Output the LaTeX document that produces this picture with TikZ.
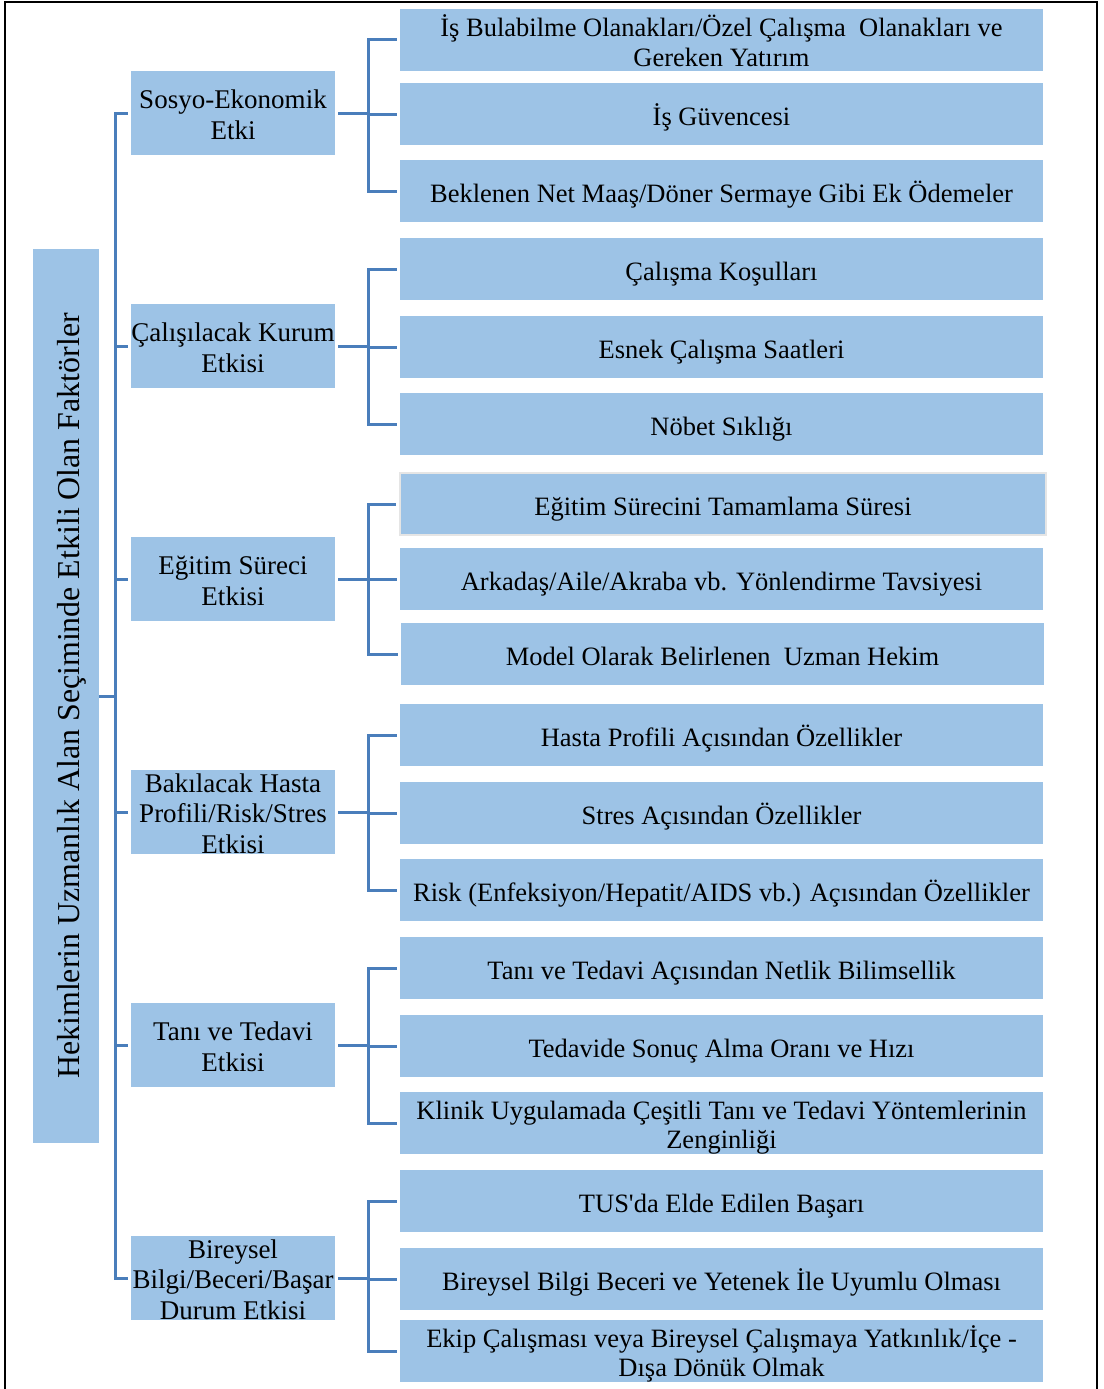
\documentclass[tikz,border=0pt]{standalone}
\usepackage{fontspec}
\setmainfont{Liberation Serif}[Ligatures=TeXOff]
\definecolor{boxfill}{HTML}{9DC3E6}
\definecolor{linecol}{HTML}{4A7EBB}
% struts: first-line height and last-line depth (in pt)
\newcommand\mystrut[1]{\rule{0pt}{#1pt}}
\newcommand\mydepth[1]{\rule[-#1pt]{0pt}{0pt}}
\newcommand\mytop{\mystrut{30}}
\newcommand\mybot{\mydepth{7}}
\begin{document}
\begin{tikzpicture}[x=1pt,y=-1pt,
  box/.style={fill=boxfill, inner sep=0pt, align=center},
  leaf/.style={box, minimum width=643pt, minimum height=62pt, font=\fontsize{26.5}{29.5}\selectfont},
  cat/.style={box, minimum width=204pt, minimum height=84pt, font=\fontsize{27}{30.8}\selectfont},
  conn/.style={draw=linecol, line width=3pt}]
\useasboundingbox (0,0) rectangle (1103,1389);
\draw[line width=2pt] (5,1400) -- (5,2) -- (1097,2) -- (1097,1400);

% root
\node[box, rotate=90, minimum width=894pt, minimum height=66pt,
  font=\fontsize{31.9}{36}\selectfont] (root) at (66,696)
  {\mystrut{36}Hekimlerin Uzmanlık Alan Seçiminde Etkili Olan Faktörler\mydepth{8.5}};

% categories
\node[cat] (c1) at (233,113) {\mytop Sosyo-Ekonomik\\Etki\mydepth{8}};
\node[cat] (c2) at (233,346) {\mytop Çalışılacak Kurum\\Etkisi\mydepth{8}};
\node[cat] (c3) at (233,579) {\mytop Eğitim Süreci\\Etkisi\mydepth{8}};
\node[cat] (c4) at (233,812) {\mystrut{22}Bakılacak Hasta\\Profili/Risk/Stres\\Etkisi};
\node[cat] (c5) at (233,1045) {\mytop Tanı ve Tedavi\\Etkisi\mydepth{8}};
\node[cat] (c6) at (233,1278) {\mystrut{22}Bireysel\\Bilgi/Beceri/Başar\\Durum Etkisi};

% leaves
\node[leaf] (l11) at (721.5,40) {\mystrut{27.5}İş Bulabilme Olanakları/Özel Çalışma\ \ Olanakları ve\\Gereken Yatırım\mydepth{4.5}};
\node[leaf] (l12) at (721.5,114) {\mytop İş Güvencesi\mybot};
\node[leaf] (l13) at (721.5,191) {\mytop Beklenen Net Maaş/Döner Sermaye Gibi Ek Ödemeler\mybot};
\node[leaf] (l21) at (721.5,269) {\mytop Çalışma Koşulları\mybot};
\node[leaf] (l22) at (721.5,347) {\mytop Esnek Çalışma Saatleri\mybot};
\node[leaf] (l23) at (721.5,424) {\mytop Nöbet Sıklığı\mybot};
\node[leaf, draw=gray!20, line width=1.5pt, minimum width=646pt] (l31) at (723,504) {\mytop Eğitim Sürecini Tamamlama Süresi\mybot};
\node[leaf] (l32) at (721.5,579) {\mytop Arkadaş/Aile/Akraba vb. Yönlendirme Tavsiyesi\mybot};
\node[leaf] (l33) at (722.5,654) {\mytop Model Olarak Belirlenen\ \ Uzman Hekim\mybot};
\node[leaf] (l41) at (721.5,735) {\mytop Hasta Profili Açısından Özellikler\mybot};
\node[leaf] (l42) at (721.5,813) {\mytop Stres Açısından Özellikler\mybot};
\node[leaf] (l43) at (721.5,890) {\mytop Risk (Enfeksiyon/Hepatit/AIDS vb.) Açısından Özellikler\mybot};
\node[leaf] (l51) at (721.5,968) {\mytop Tanı ve Tedavi Açısından Netlik Bilimsellik\mybot};
\node[leaf] (l52) at (721.5,1046) {\mytop Tedavide Sonuç Alma Oranı ve Hızı\mybot};
\node[leaf] (l53) at (721.5,1123) {\mystrut{27.5}Klinik Uygulamada Çeşitli Tanı ve Tedavi Yöntemlerinin\\Zenginliği\mydepth{4.5}};
\node[leaf] (l61) at (721.5,1201) {\mytop TUS'da Elde Edilen Başarı\mybot};
\node[leaf] (l62) at (721.5,1279) {\mytop Bireysel Bilgi Beceri ve Yetenek İle Uyumlu Olması\mybot};
\node[leaf] (l63) at (721.5,1351) {\mystrut{27.5}Ekip Çalışması veya Bireysel Çalışmaya Yatkınlık/İçe -\\Dışa Dönük Olmak\mydepth{4.5}};

% trunk
\coordinate (trunk) at (115,696);
\draw[conn] (root.south) -- (trunk);
\foreach \c in {c1,c2,c3,c4,c5,c6}
  \draw[conn, shorten >=3pt] (trunk) |- (\c.west);

% branches
\foreach \c/\y in {1/113,2/346,3/579,4/812,5/1045,6/1278}{
  \coordinate (b\c) at (368,\y);
  \draw[conn, shorten <=3pt] (c\c.east) -- (b\c);
  \foreach \i in {1,2,3}
    \draw[conn, shorten >=3pt] (b\c) |- (l\c\i.west);
}
\end{tikzpicture}
\end{document}
